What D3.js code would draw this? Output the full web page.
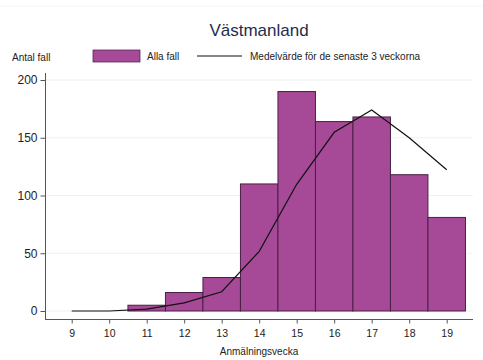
<!DOCTYPE html>
<html>
<head>
<meta charset="utf-8">
<script src="https://cdn.jsdelivr.net/npm/d3@7"></script>
<style>
  html, body { margin: 0; padding: 0; background: #fff; }
  svg { display: block; font-family: "Liberation Sans", Arial, sans-serif; }
</style>
</head>
<body>
<svg id="chart" width="483" height="360"></svg>
<script>
// Weekly case counts for Västmanland
const weeks = [9, 10, 11, 12, 13, 14, 15, 16, 17, 18, 19];
const cases = [0, 0, 5, 16, 29, 110, 190, 164, 168, 118, 81];
// Mean of the latest three weeks
const rollingMean = [0, 0, 1.7, 7, 16.7, 51.7, 109.7, 154.7, 174, 150, 122.3];
const yTicks = [0, 50, 100, 150, 200];

const svg = d3.select("#chart");
const W = 483, H = 360;

const x = d3.scaleLinear().domain([9, 19]).range([71.7, 446.7]);
const y = d3.scaleLinear().domain([0, 200]).range([311, 80]);
const step = x(10) - x(9);

// faint frame line at the top
svg.append("line").attr("x1", 0).attr("x2", W).attr("y1", 6).attr("y2", 6)
  .attr("stroke", "#f3f5f5").attr("stroke-width", 1);

// title
svg.append("text").attr("x", 259).attr("y", 36).attr("text-anchor", "middle")
  .attr("font-size", 17).attr("fill", "#1f2d4d").text("Västmanland");

// y-axis title
svg.append("text").attr("x", 12).attr("y", 61)
  .attr("font-size", 10).attr("fill", "#222").text("Antal fall");

// legend
const lg = svg.append("g");
lg.append("rect").attr("x", 93).attr("y", 50).attr("width", 47).attr("height", 12)
  .attr("fill", "#a64a97").attr("stroke", "#5a2a55").attr("stroke-width", 0.8);
lg.append("text").attr("x", 147).attr("y", 60).attr("font-size", 10).attr("fill", "#222").text("Alla fall");
lg.append("line").attr("x1", 197).attr("x2", 242).attr("y1", 56).attr("y2", 56)
  .attr("stroke", "#111").attr("stroke-width", 1.2);
lg.append("text").attr("x", 250).attr("y", 60).attr("font-size", 10).attr("fill", "#222")
  .text("Medelvärde för de senaste 3 veckorna");

// gridlines
svg.append("g").selectAll("line").data(yTicks).join("line")
  .attr("x1", 46).attr("x2", 473)
  .attr("y1", d => y(d)).attr("y2", d => y(d))
  .attr("stroke", "#edf2f2").attr("stroke-width", 1);

// bars
svg.append("g").selectAll("rect").data(weeks.map((w, i) => ({w, v: cases[i]})).filter(d => d.v > 0))
  .join("rect")
  .attr("x", d => x(d.w) - step / 2)
  .attr("width", step)
  .attr("y", d => y(d.v))
  .attr("height", d => y(0) - y(d.v))
  .attr("fill", "#a64a97")
  .attr("stroke", "#4a1f45")
  .attr("stroke-width", 1);

// rolling mean line
const line = d3.line().x((d, i) => x(weeks[i])).y(d => y(d));
svg.append("path").datum(rollingMean).attr("d", line)
  .attr("fill", "none").attr("stroke", "#111").attr("stroke-width", 1.2);

// y axis
const yAxis = svg.append("g").attr("transform", "translate(45.5,0)")
  .call(d3.axisLeft(y).tickValues(yTicks).tickSize(5).tickPadding(3));
yAxis.select(".domain").attr("d", `M0,73V319`).attr("stroke", "#555");
yAxis.selectAll(".tick line").attr("stroke", "#555");
yAxis.selectAll(".tick text").attr("font-size", 12).attr("fill", "#222")
  .attr("font-family", "Liberation Sans, Arial, sans-serif");

// x axis
const xAxis = svg.append("g").attr("transform", "translate(0,319.5)")
  .call(d3.axisBottom(x).tickValues(weeks).tickFormat(d3.format("d")).tickSize(4).tickPadding(6));
xAxis.select(".domain").attr("d", `M45,0H473`).attr("stroke", "#555");
xAxis.selectAll(".tick line").attr("stroke", "#555");
xAxis.selectAll(".tick text").attr("font-size", 10.5).attr("fill", "#222")
  .attr("font-family", "Liberation Sans, Arial, sans-serif");

// x-axis title
svg.append("text").attr("x", 259).attr("y", 355).attr("text-anchor", "middle")
  .attr("font-size", 10).attr("fill", "#222").text("Anmälningsvecka");
</script>
</body>
</html>
